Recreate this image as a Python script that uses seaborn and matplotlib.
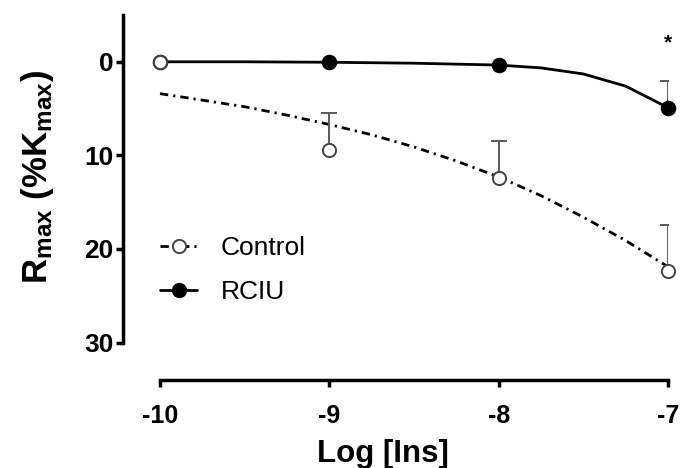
import numpy as np
import pandas as pd
import matplotlib
matplotlib.use("Agg")
import matplotlib.pyplot as plt
import seaborn as sns
from matplotlib.lines import Line2D

sns.set_style("ticks")
plt.rcParams['font.family'] = ['Liberation Sans', 'DejaVu Sans']
plt.rcParams['mathtext.fontset'] = 'custom'
plt.rcParams['mathtext.rm'] = 'Liberation Sans:bold'
plt.rcParams['mathtext.bf'] = 'Liberation Sans:bold'
plt.rcParams['mathtext.default'] = 'bf'
for k in ['text.color', 'axes.labelcolor', 'xtick.color', 'ytick.color', 'axes.edgecolor']:
    plt.rcParams[k] = 'black'

# ---- data ----
log_ins = [-10, -9, -8, -7]
control_mean = [0.0, 9.4, 12.4, 22.4]
control_err = [0.0, 3.9, 3.9, 5.0]      # one-sided (toward smaller values)
rciu_mean = [0.0, 0.0, 0.35, 4.9]
rciu_err = [0.0, 0.0, 0.0, 2.8]

control_fit_x = [-10, -9.75, -9.5, -9.25, -9, -8.75, -8.5, -8.25, -8, -7.75, -7.5, -7.25, -7]
control_fit_y = [3.4, 4.1, 4.8, 5.7, 6.7, 7.8, 9.1, 10.6, 12.3, 14.3, 16.6, 19.1, 21.9]
rciu_fit_x = [-10, -9.5, -9, -8.5, -8, -7.75, -7.5, -7.25, -7]
rciu_fit_y = [0.0, 0.0, 0.05, 0.15, 0.35, 0.65, 1.3, 2.6, 4.9]

xticks = [-10, -9, -8, -7]
yticks = [0, 10, 20, 30]
sig_x, sig_y = -7, -2.0

fig = plt.figure(figsize=(6.8, 4.68), dpi=100)
ax = fig.add_axes([123/680, 88/468, 545/680, 365/468])

cf = pd.DataFrame({"x": control_fit_x, "y": control_fit_y})
rf = pd.DataFrame({"x": rciu_fit_x, "y": rciu_fit_y})
dashdot = (0, (3, 1.8, 0.8, 1.8))
sns.lineplot(data=cf, x="x", y="y", ax=ax, color="black", lw=2.0,
             linestyle=dashdot, zorder=2)
sns.lineplot(data=rf, x="x", y="y", ax=ax, color="black", lw=2.0, zorder=2)

# one-sided error bars (toward smaller values)
def one_sided(xs, means, errs):
    xs = np.array(xs); means = np.array(means); errs = np.array(errs)
    m = errs > 0
    ax.vlines(xs[m], means[m] - errs[m], means[m], colors="#5a5a5a", lw=1.4, zorder=3)
    ax.plot(xs[m], means[m] - errs[m], ls="none", marker="_", ms=12, mew=1.4,
            color="#5a5a5a", zorder=3)

one_sided(log_ins, control_mean, control_err)
one_sided(log_ins, rciu_mean, rciu_err)

ax.plot(log_ins, rciu_mean, "o", ms=10, mfc="black", mec="black", mew=1.2,
        zorder=4, clip_on=False)
ax.plot(log_ins, control_mean, "o", ms=9.5, mfc="white", mec="#444444", mew=1.4,
        zorder=5, clip_on=False)

ax.text(sig_x, sig_y, "*", ha="center", va="center", fontsize=15, fontweight="bold")

ax.set_xlim(-10 - 37/169.3, -7)
ax.set_ylim(34, -5)
ax.set_xticks(xticks)
ax.set_yticks(yticks)
ax.set_xticklabels([str(t) for t in xticks], fontsize=18, fontweight="bold")
ax.set_yticklabels([str(t) for t in yticks], fontsize=19, fontweight="bold")
ax.spines['top'].set_visible(False)
ax.spines['right'].set_visible(False)
ax.spines['left'].set_bounds(-5, 30)
ax.spines['bottom'].set_bounds(-10, -7)
ax.spines['left'].set_linewidth(2.5)
ax.spines['bottom'].set_linewidth(2.5)
ax.tick_params(axis='both', width=2.5, length=5, color="black")
ax.tick_params(axis='x', pad=12)
ax.tick_params(axis='y', pad=2)

ax.set_xlabel("Log [Ins]", fontsize=22.5, fontweight="bold", labelpad=8)
ax.xaxis.label.set_x((383 - 123) / 545)
ax.set_ylabel(r"R$_{max}$ (%K$_{max}$)", fontsize=25, fontweight="bold", labelpad=20)
ax.yaxis.label.set_y((380 - 177) / 365)

handles = [
    Line2D([], [], color="black", lw=2.0, linestyle=dashdot,
           marker="o", ms=9.5, mfc="white", mec="#444444", mew=1.4),
    Line2D([], [], color="black", lw=2.0, marker="o", ms=10, mfc="black", mec="black"),
]
ax.legend(handles, ["Control", "RCIU"], loc="upper left", bbox_to_anchor=(0.049, 0.423),
          frameon=False, fontsize=19, handlelength=1.4, handletextpad=0.9,
          labelspacing=0.75, borderaxespad=0)

fig.savefig("out.png", dpi=100)
